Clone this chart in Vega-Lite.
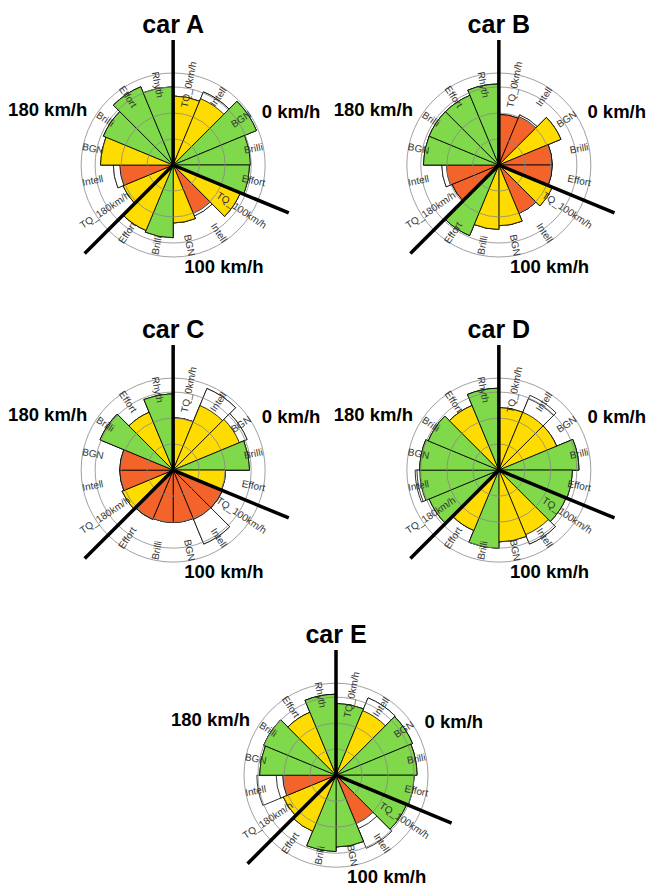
{
"$schema": "https://vega.github.io/schema/vega-lite/v6.json",
"padding": {"left": 8, "top": 12, "right": 0, "bottom": 0},
"center": true,
"spacing": 40.1,
"config": {"view": {"stroke": null}, "font": "Liberation Sans",
  "title": {"fontSize": 25, "fontWeight": "bold", "font": "Liberation Sans", "anchor": "middle", "frame": "group", "baseline": "alphabetic", "offset": -4.7, "color": "black"}},
"datasets": {
"rings": [{"r": 28.3, "kind": "grid"}, {"r": 56.5, "kind": "grid"}, {"r": 84.8, "kind": "grid"}, {"r": 100, "kind": "outer"}],
"cuts": [{"b": 0, "speed": "0 km/h"}, {"b": 5, "speed": "100 km/h"}, {"b": 10, "speed": "180 km/h"}],
"bars": [
{"car":"A","idx":0,"label":"TQ_0km/h","rating":"mid","v":75,"o1":75,"o2":75},
{"car":"A","idx":1,"label":"Intell","rating":"mid","v":78,"o1":86,"o2":86},
{"car":"A","idx":2,"label":"BGN","rating":"good","v":98,"o1":98,"o2":98},
{"car":"A","idx":3,"label":"Brilli","rating":"good","v":84,"o1":84,"o2":84},
{"car":"A","idx":4,"label":"Effort","rating":"good","v":83,"o1":83,"o2":83},
{"car":"A","idx":5,"label":"TQ_100km/h","rating":"mid","v":79,"o1":79,"o2":79},
{"car":"A","idx":6,"label":"Intell","rating":"poor","v":57,"o1":60,"o2":60},
{"car":"A","idx":7,"label":"BGN","rating":"mid","v":63,"o1":63,"o2":63},
{"car":"A","idx":8,"label":"Brilli","rating":"good","v":79,"o1":79,"o2":79},
{"car":"A","idx":9,"label":"Effort","rating":"mid","v":77,"o1":77,"o2":77},
{"car":"A","idx":10,"label":"TQ_180km/h","rating":"mid","v":59,"o1":59,"o2":59},
{"car":"A","idx":11,"label":"Intell","rating":"poor","v":58,"o1":65,"o2":65},
{"car":"A","idx":12,"label":"BGN","rating":"mid","v":79,"o1":79,"o2":79},
{"car":"A","idx":13,"label":"Brilli","rating":"good","v":82,"o1":82,"o2":82},
{"car":"A","idx":14,"label":"Effort","rating":"good","v":92,"o1":92,"o2":92},
{"car":"A","idx":15,"label":"Rhyth","rating":"good","v":85,"o1":85,"o2":85},
{"car":"B","idx":0,"label":"TQ_0km/h","rating":"poor","v":55,"o1":55,"o2":55},
{"car":"B","idx":1,"label":"Intell","rating":"poor","v":57,"o1":59,"o2":59},
{"car":"B","idx":2,"label":"BGN","rating":"mid","v":73,"o1":73,"o2":73},
{"car":"B","idx":3,"label":"Brilli","rating":"poor","v":58,"o1":58,"o2":58},
{"car":"B","idx":4,"label":"Effort","rating":"poor","v":58,"o1":58,"o2":58},
{"car":"B","idx":5,"label":"TQ_100km/h","rating":"mid","v":63,"o1":63,"o2":63},
{"car":"B","idx":6,"label":"Intell","rating":"poor","v":57,"o1":57,"o2":57},
{"car":"B","idx":7,"label":"BGN","rating":"mid","v":66,"o1":66,"o2":66},
{"car":"B","idx":8,"label":"Brilli","rating":"mid","v":70,"o1":70,"o2":70},
{"car":"B","idx":9,"label":"Effort","rating":"good","v":83,"o1":83,"o2":83},
{"car":"B","idx":10,"label":"TQ_180km/h","rating":"poor","v":55,"o1":55,"o2":55},
{"car":"B","idx":11,"label":"Intell","rating":"poor","v":57,"o1":62,"o2":62},
{"car":"B","idx":12,"label":"BGN","rating":"good","v":82,"o1":82,"o2":82},
{"car":"B","idx":13,"label":"Brilli","rating":"good","v":82,"o1":82,"o2":82},
{"car":"B","idx":14,"label":"Effort","rating":"good","v":82,"o1":82,"o2":82},
{"car":"B","idx":15,"label":"Rhyth","rating":"good","v":88,"o1":88,"o2":88},
{"car":"C","idx":0,"label":"TQ_0km/h","rating":"mid","v":57,"o1":57,"o2":57},
{"car":"C","idx":1,"label":"Intell","rating":"mid","v":76,"o1":96,"o2":96},
{"car":"C","idx":2,"label":"BGN","rating":"mid","v":78,"o1":87,"o2":87},
{"car":"C","idx":3,"label":"Brilli","rating":"good","v":83,"o1":83,"o2":83},
{"car":"C","idx":4,"label":"Effort","rating":"mid","v":57,"o1":57,"o2":57},
{"car":"C","idx":5,"label":"TQ_100km/h","rating":"poor","v":58,"o1":58,"o2":58},
{"car":"C","idx":6,"label":"Intell","rating":"poor","v":58,"o1":87,"o2":87},
{"car":"C","idx":7,"label":"BGN","rating":"poor","v":57,"o1":57,"o2":57},
{"car":"C","idx":8,"label":"Brilli","rating":"poor","v":57,"o1":57,"o2":57},
{"car":"C","idx":9,"label":"Effort","rating":"poor","v":58,"o1":58,"o2":58},
{"car":"C","idx":10,"label":"TQ_180km/h","rating":"mid","v":60,"o1":60,"o2":60},
{"car":"C","idx":11,"label":"Intell","rating":"poor","v":58,"o1":58,"o2":58},
{"car":"C","idx":12,"label":"BGN","rating":"poor","v":58,"o1":58,"o2":58},
{"car":"C","idx":13,"label":"Brilli","rating":"good","v":86,"o1":86,"o2":86},
{"car":"C","idx":14,"label":"Effort","rating":"mid","v":68,"o1":68,"o2":68},
{"car":"C","idx":15,"label":"Rhyth","rating":"good","v":83,"o1":83,"o2":83},
{"car":"D","idx":0,"label":"TQ_0km/h","rating":"mid","v":68,"o1":68,"o2":68},
{"car":"D","idx":1,"label":"Intell","rating":"mid","v":68,"o1":84,"o2":88},
{"car":"D","idx":2,"label":"BGN","rating":"mid","v":68,"o1":68,"o2":68},
{"car":"D","idx":3,"label":"Brilli","rating":"good","v":87,"o1":87,"o2":87},
{"car":"D","idx":4,"label":"Effort","rating":"good","v":80,"o1":80,"o2":80},
{"car":"D","idx":5,"label":"TQ_100km/h","rating":"good","v":79,"o1":79,"o2":79},
{"car":"D","idx":6,"label":"Intell","rating":"mid","v":76,"o1":87,"o2":87},
{"car":"D","idx":7,"label":"BGN","rating":"mid","v":78,"o1":78,"o2":78},
{"car":"D","idx":8,"label":"Brilli","rating":"good","v":85,"o1":85,"o2":85},
{"car":"D","idx":9,"label":"Effort","rating":"mid","v":71,"o1":71,"o2":71},
{"car":"D","idx":10,"label":"TQ_180km/h","rating":"good","v":82,"o1":82,"o2":82},
{"car":"D","idx":11,"label":"Intell","rating":"good","v":86,"o1":89,"o2":91},
{"car":"D","idx":12,"label":"BGN","rating":"good","v":86,"o1":86,"o2":86},
{"car":"D","idx":13,"label":"Brilli","rating":"good","v":83,"o1":83,"o2":83},
{"car":"D","idx":14,"label":"Effort","rating":"mid","v":76,"o1":76,"o2":76},
{"car":"D","idx":15,"label":"Rhyth","rating":"good","v":89,"o1":89,"o2":89},
{"car":"E","idx":0,"label":"TQ_0km/h","rating":"good","v":78,"o1":78,"o2":78},
{"car":"E","idx":1,"label":"Intell","rating":"mid","v":76,"o1":91,"o2":91},
{"car":"E","idx":2,"label":"BGN","rating":"good","v":90,"o1":90,"o2":90},
{"car":"E","idx":3,"label":"Brilli","rating":"good","v":88,"o1":88,"o2":88},
{"car":"E","idx":4,"label":"Effort","rating":"good","v":85,"o1":85,"o2":85},
{"car":"E","idx":5,"label":"TQ_100km/h","rating":"good","v":83,"o1":83,"o2":83},
{"car":"E","idx":6,"label":"Intell","rating":"poor","v":57,"o1":63,"o2":86},
{"car":"E","idx":7,"label":"BGN","rating":"good","v":78,"o1":78,"o2":78},
{"car":"E","idx":8,"label":"Brilli","rating":"good","v":83,"o1":83,"o2":83},
{"car":"E","idx":9,"label":"Effort","rating":"mid","v":66,"o1":66,"o2":66},
{"car":"E","idx":10,"label":"TQ_180km/h","rating":"mid","v":62,"o1":62,"o2":62},
{"car":"E","idx":11,"label":"Intell","rating":"poor","v":58,"o1":65,"o2":86},
{"car":"E","idx":12,"label":"BGN","rating":"good","v":83,"o1":83,"o2":83},
{"car":"E","idx":13,"label":"Brilli","rating":"good","v":85,"o1":85,"o2":85},
{"car":"E","idx":14,"label":"Effort","rating":"mid","v":74,"o1":74,"o2":74},
{"car":"E","idx":15,"label":"Rhyth","rating":"good","v":88,"o1":88,"o2":88}
]
},
"vconcat": [
{"hconcat": [
{"title": {"text": "car A"}, "width": 300, "height": 220, "data": {"name": "bars"}, "transform": [{"filter": "datum.car === 'A'"}],
 "resolve": {"scale": {"theta": "independent", "radius": "independent"}},
 "layer": [
  {"mark": {"type": "arc", "fill": "white", "stroke": "black", "strokeWidth": 0.8, "theta2Offset": 0.392699}, "encoding": {"theta": {"field": "idx", "type": "quantitative", "stack": null, "scale": {"domain": [0, 16], "range": [0, 6.283185]}}, "theta2": {"field": "idx"}, "radius": {"field": "o2", "type": "quantitative", "stack": null, "scale": {"type": "linear", "domain": [0, 100], "range": [0, 92]}}}},
  {"mark": {"type": "arc", "fill": "white", "stroke": "black", "strokeWidth": 0.8, "theta2Offset": 0.392699}, "encoding": {"theta": {"field": "idx", "type": "quantitative", "stack": null, "scale": {"domain": [0, 16], "range": [0, 6.283185]}}, "theta2": {"field": "idx"}, "radius": {"field": "o1", "type": "quantitative", "stack": null, "scale": {"type": "linear", "domain": [0, 100], "range": [0, 92]}}}},
  {"mark": {"type": "arc", "stroke": "black", "strokeWidth": 0.8, "theta2Offset": 0.392699}, "encoding": {"theta": {"field": "idx", "type": "quantitative", "stack": null, "scale": {"domain": [0, 16], "range": [0, 6.283185]}}, "theta2": {"field": "idx"}, "radius": {"field": "v", "type": "quantitative", "stack": null, "scale": {"type": "linear", "domain": [0, 100], "range": [0, 92]}}, "color": {"field": "rating", "type": "nominal", "scale": {"domain": ["good", "mid", "poor"], "range": ["#80D94A", "#FFDC00", "#F4632A"]}, "legend": null}}},
  {"data": {"name": "rings"}, "mark": {"type": "arc", "theta": 0, "theta2": 6.2832, "filled": false, "stroke": "#888", "strokeWidth": 0.8}, "encoding": {"radius": {"field": "r", "type": "quantitative", "stack": null, "scale": {"type": "linear", "domain": [0, 100], "range": [0, 92]}}, "strokeDash": {"field": "kind", "type": "nominal", "scale": {"domain": ["grid", "outer"], "range": [[1, 2], [1, 0]]}, "legend": null}}},
  {"mark": {"type": "text", "fontSize": 10, "fill": "#333", "align": "center", "baseline": "middle"}, "encoding": {"theta": {"field": "idx", "type": "quantitative", "stack": null, "scale": {"domain": [-0.5, 15.5], "range": [0, 6.283185]}}, "radius": {"datum": 89, "type": "quantitative", "scale": {"type": "linear", "domain": [0, 100], "range": [0, 92]}}, "text": {"field": "label", "type": "nominal"}, "angle": {"field": "idx", "type": "quantitative", "scale": {"domain": [0, 7, 8, 15], "range": [-78.75, 78.75, -78.75, 78.75]}}}},
  {"data": {"name": "cuts"}, "mark": {"type": "arc", "filled": false, "stroke": "black", "strokeWidth": 3.5}, "encoding": {"theta": {"field": "b", "type": "quantitative", "stack": null, "scale": {"domain": [0, 16], "range": [0, 6.283185]}}, "theta2": {"field": "b"}, "radius": {"datum": 136, "type": "quantitative", "scale": {"type": "linear", "domain": [0, 100], "range": [0, 92]}}}},
  {"data": {"name": "cuts"}, "mark": {"type": "text", "fontSize": 18.5, "fontWeight": "bold", "fill": "black", "align": "center", "baseline": "middle"}, "encoding": {"theta": {"field": "b", "type": "quantitative", "stack": null, "scale": {"domain": [0, 5, 10], "range": [1.147, 2.681, 5.124]}}, "radius": {"field": "b", "type": "quantitative", "stack": null, "scale": {"domain": [0, 5, 10], "range": [129.3, 114.1, 136.9]}}, "text": {"field": "speed", "type": "nominal"}}}
 ]},
{"title": {"text": "car B"}, "width": 300, "height": 220, "data": {"name": "bars"}, "transform": [{"filter": "datum.car === 'B'"}],
 "resolve": {"scale": {"theta": "independent", "radius": "independent"}},
 "layer": [
  {"mark": {"type": "arc", "fill": "white", "stroke": "black", "strokeWidth": 0.8, "theta2Offset": 0.392699}, "encoding": {"theta": {"field": "idx", "type": "quantitative", "stack": null, "scale": {"domain": [0, 16], "range": [0, 6.283185]}}, "theta2": {"field": "idx"}, "radius": {"field": "o2", "type": "quantitative", "stack": null, "scale": {"type": "linear", "domain": [0, 100], "range": [0, 92]}}}},
  {"mark": {"type": "arc", "fill": "white", "stroke": "black", "strokeWidth": 0.8, "theta2Offset": 0.392699}, "encoding": {"theta": {"field": "idx", "type": "quantitative", "stack": null, "scale": {"domain": [0, 16], "range": [0, 6.283185]}}, "theta2": {"field": "idx"}, "radius": {"field": "o1", "type": "quantitative", "stack": null, "scale": {"type": "linear", "domain": [0, 100], "range": [0, 92]}}}},
  {"mark": {"type": "arc", "stroke": "black", "strokeWidth": 0.8, "theta2Offset": 0.392699}, "encoding": {"theta": {"field": "idx", "type": "quantitative", "stack": null, "scale": {"domain": [0, 16], "range": [0, 6.283185]}}, "theta2": {"field": "idx"}, "radius": {"field": "v", "type": "quantitative", "stack": null, "scale": {"type": "linear", "domain": [0, 100], "range": [0, 92]}}, "color": {"field": "rating", "type": "nominal", "scale": {"domain": ["good", "mid", "poor"], "range": ["#80D94A", "#FFDC00", "#F4632A"]}, "legend": null}}},
  {"data": {"name": "rings"}, "mark": {"type": "arc", "theta": 0, "theta2": 6.2832, "filled": false, "stroke": "#888", "strokeWidth": 0.8}, "encoding": {"radius": {"field": "r", "type": "quantitative", "stack": null, "scale": {"type": "linear", "domain": [0, 100], "range": [0, 92]}}, "strokeDash": {"field": "kind", "type": "nominal", "scale": {"domain": ["grid", "outer"], "range": [[1, 2], [1, 0]]}, "legend": null}}},
  {"mark": {"type": "text", "fontSize": 10, "fill": "#333", "align": "center", "baseline": "middle"}, "encoding": {"theta": {"field": "idx", "type": "quantitative", "stack": null, "scale": {"domain": [-0.5, 15.5], "range": [0, 6.283185]}}, "radius": {"datum": 89, "type": "quantitative", "scale": {"type": "linear", "domain": [0, 100], "range": [0, 92]}}, "text": {"field": "label", "type": "nominal"}, "angle": {"field": "idx", "type": "quantitative", "scale": {"domain": [0, 7, 8, 15], "range": [-78.75, 78.75, -78.75, 78.75]}}}},
  {"data": {"name": "cuts"}, "mark": {"type": "arc", "filled": false, "stroke": "black", "strokeWidth": 3.5}, "encoding": {"theta": {"field": "b", "type": "quantitative", "stack": null, "scale": {"domain": [0, 16], "range": [0, 6.283185]}}, "theta2": {"field": "b"}, "radius": {"datum": 136, "type": "quantitative", "scale": {"type": "linear", "domain": [0, 100], "range": [0, 92]}}}},
  {"data": {"name": "cuts"}, "mark": {"type": "text", "fontSize": 18.5, "fontWeight": "bold", "fill": "black", "align": "center", "baseline": "middle"}, "encoding": {"theta": {"field": "b", "type": "quantitative", "stack": null, "scale": {"domain": [0, 5, 10], "range": [1.147, 2.681, 5.124]}}, "radius": {"field": "b", "type": "quantitative", "stack": null, "scale": {"domain": [0, 5, 10], "range": [129.3, 114.1, 136.9]}}, "text": {"field": "speed", "type": "nominal"}}}
 ]}
], "spacing": 25.7, "bounds": "flush"},
{"hconcat": [
{"title": {"text": "car C"}, "width": 300, "height": 220, "data": {"name": "bars"}, "transform": [{"filter": "datum.car === 'C'"}],
 "resolve": {"scale": {"theta": "independent", "radius": "independent"}},
 "layer": [
  {"mark": {"type": "arc", "fill": "white", "stroke": "black", "strokeWidth": 0.8, "theta2Offset": 0.392699}, "encoding": {"theta": {"field": "idx", "type": "quantitative", "stack": null, "scale": {"domain": [0, 16], "range": [0, 6.283185]}}, "theta2": {"field": "idx"}, "radius": {"field": "o2", "type": "quantitative", "stack": null, "scale": {"type": "linear", "domain": [0, 100], "range": [0, 92]}}}},
  {"mark": {"type": "arc", "fill": "white", "stroke": "black", "strokeWidth": 0.8, "theta2Offset": 0.392699}, "encoding": {"theta": {"field": "idx", "type": "quantitative", "stack": null, "scale": {"domain": [0, 16], "range": [0, 6.283185]}}, "theta2": {"field": "idx"}, "radius": {"field": "o1", "type": "quantitative", "stack": null, "scale": {"type": "linear", "domain": [0, 100], "range": [0, 92]}}}},
  {"mark": {"type": "arc", "stroke": "black", "strokeWidth": 0.8, "theta2Offset": 0.392699}, "encoding": {"theta": {"field": "idx", "type": "quantitative", "stack": null, "scale": {"domain": [0, 16], "range": [0, 6.283185]}}, "theta2": {"field": "idx"}, "radius": {"field": "v", "type": "quantitative", "stack": null, "scale": {"type": "linear", "domain": [0, 100], "range": [0, 92]}}, "color": {"field": "rating", "type": "nominal", "scale": {"domain": ["good", "mid", "poor"], "range": ["#80D94A", "#FFDC00", "#F4632A"]}, "legend": null}}},
  {"data": {"name": "rings"}, "mark": {"type": "arc", "theta": 0, "theta2": 6.2832, "filled": false, "stroke": "#888", "strokeWidth": 0.8}, "encoding": {"radius": {"field": "r", "type": "quantitative", "stack": null, "scale": {"type": "linear", "domain": [0, 100], "range": [0, 92]}}, "strokeDash": {"field": "kind", "type": "nominal", "scale": {"domain": ["grid", "outer"], "range": [[1, 2], [1, 0]]}, "legend": null}}},
  {"mark": {"type": "text", "fontSize": 10, "fill": "#333", "align": "center", "baseline": "middle"}, "encoding": {"theta": {"field": "idx", "type": "quantitative", "stack": null, "scale": {"domain": [-0.5, 15.5], "range": [0, 6.283185]}}, "radius": {"datum": 89, "type": "quantitative", "scale": {"type": "linear", "domain": [0, 100], "range": [0, 92]}}, "text": {"field": "label", "type": "nominal"}, "angle": {"field": "idx", "type": "quantitative", "scale": {"domain": [0, 7, 8, 15], "range": [-78.75, 78.75, -78.75, 78.75]}}}},
  {"data": {"name": "cuts"}, "mark": {"type": "arc", "filled": false, "stroke": "black", "strokeWidth": 3.5}, "encoding": {"theta": {"field": "b", "type": "quantitative", "stack": null, "scale": {"domain": [0, 16], "range": [0, 6.283185]}}, "theta2": {"field": "b"}, "radius": {"datum": 136, "type": "quantitative", "scale": {"type": "linear", "domain": [0, 100], "range": [0, 92]}}}},
  {"data": {"name": "cuts"}, "mark": {"type": "text", "fontSize": 18.5, "fontWeight": "bold", "fill": "black", "align": "center", "baseline": "middle"}, "encoding": {"theta": {"field": "b", "type": "quantitative", "stack": null, "scale": {"domain": [0, 5, 10], "range": [1.147, 2.681, 5.124]}}, "radius": {"field": "b", "type": "quantitative", "stack": null, "scale": {"domain": [0, 5, 10], "range": [129.3, 114.1, 136.9]}}, "text": {"field": "speed", "type": "nominal"}}}
 ]},
{"title": {"text": "car D"}, "width": 300, "height": 220, "data": {"name": "bars"}, "transform": [{"filter": "datum.car === 'D'"}],
 "resolve": {"scale": {"theta": "independent", "radius": "independent"}},
 "layer": [
  {"mark": {"type": "arc", "fill": "white", "stroke": "black", "strokeWidth": 0.8, "theta2Offset": 0.392699}, "encoding": {"theta": {"field": "idx", "type": "quantitative", "stack": null, "scale": {"domain": [0, 16], "range": [0, 6.283185]}}, "theta2": {"field": "idx"}, "radius": {"field": "o2", "type": "quantitative", "stack": null, "scale": {"type": "linear", "domain": [0, 100], "range": [0, 92]}}}},
  {"mark": {"type": "arc", "fill": "white", "stroke": "black", "strokeWidth": 0.8, "theta2Offset": 0.392699}, "encoding": {"theta": {"field": "idx", "type": "quantitative", "stack": null, "scale": {"domain": [0, 16], "range": [0, 6.283185]}}, "theta2": {"field": "idx"}, "radius": {"field": "o1", "type": "quantitative", "stack": null, "scale": {"type": "linear", "domain": [0, 100], "range": [0, 92]}}}},
  {"mark": {"type": "arc", "stroke": "black", "strokeWidth": 0.8, "theta2Offset": 0.392699}, "encoding": {"theta": {"field": "idx", "type": "quantitative", "stack": null, "scale": {"domain": [0, 16], "range": [0, 6.283185]}}, "theta2": {"field": "idx"}, "radius": {"field": "v", "type": "quantitative", "stack": null, "scale": {"type": "linear", "domain": [0, 100], "range": [0, 92]}}, "color": {"field": "rating", "type": "nominal", "scale": {"domain": ["good", "mid", "poor"], "range": ["#80D94A", "#FFDC00", "#F4632A"]}, "legend": null}}},
  {"data": {"name": "rings"}, "mark": {"type": "arc", "theta": 0, "theta2": 6.2832, "filled": false, "stroke": "#888", "strokeWidth": 0.8}, "encoding": {"radius": {"field": "r", "type": "quantitative", "stack": null, "scale": {"type": "linear", "domain": [0, 100], "range": [0, 92]}}, "strokeDash": {"field": "kind", "type": "nominal", "scale": {"domain": ["grid", "outer"], "range": [[1, 2], [1, 0]]}, "legend": null}}},
  {"mark": {"type": "text", "fontSize": 10, "fill": "#333", "align": "center", "baseline": "middle"}, "encoding": {"theta": {"field": "idx", "type": "quantitative", "stack": null, "scale": {"domain": [-0.5, 15.5], "range": [0, 6.283185]}}, "radius": {"datum": 89, "type": "quantitative", "scale": {"type": "linear", "domain": [0, 100], "range": [0, 92]}}, "text": {"field": "label", "type": "nominal"}, "angle": {"field": "idx", "type": "quantitative", "scale": {"domain": [0, 7, 8, 15], "range": [-78.75, 78.75, -78.75, 78.75]}}}},
  {"data": {"name": "cuts"}, "mark": {"type": "arc", "filled": false, "stroke": "black", "strokeWidth": 3.5}, "encoding": {"theta": {"field": "b", "type": "quantitative", "stack": null, "scale": {"domain": [0, 16], "range": [0, 6.283185]}}, "theta2": {"field": "b"}, "radius": {"datum": 136, "type": "quantitative", "scale": {"type": "linear", "domain": [0, 100], "range": [0, 92]}}}},
  {"data": {"name": "cuts"}, "mark": {"type": "text", "fontSize": 18.5, "fontWeight": "bold", "fill": "black", "align": "center", "baseline": "middle"}, "encoding": {"theta": {"field": "b", "type": "quantitative", "stack": null, "scale": {"domain": [0, 5, 10], "range": [1.147, 2.681, 5.124]}}, "radius": {"field": "b", "type": "quantitative", "stack": null, "scale": {"domain": [0, 5, 10], "range": [129.3, 114.1, 136.9]}}, "text": {"field": "speed", "type": "nominal"}}}
 ]}
], "spacing": 25.7, "bounds": "flush"},
{"title": {"text": "car E"}, "width": 300, "height": 220, "data": {"name": "bars"}, "transform": [{"filter": "datum.car === 'E'"}],
 "resolve": {"scale": {"theta": "independent", "radius": "independent"}},
 "layer": [
  {"mark": {"type": "arc", "fill": "white", "stroke": "black", "strokeWidth": 0.8, "theta2Offset": 0.392699}, "encoding": {"theta": {"field": "idx", "type": "quantitative", "stack": null, "scale": {"domain": [0, 16], "range": [0, 6.283185]}}, "theta2": {"field": "idx"}, "radius": {"field": "o2", "type": "quantitative", "stack": null, "scale": {"type": "linear", "domain": [0, 100], "range": [0, 92]}}}},
  {"mark": {"type": "arc", "fill": "white", "stroke": "black", "strokeWidth": 0.8, "theta2Offset": 0.392699}, "encoding": {"theta": {"field": "idx", "type": "quantitative", "stack": null, "scale": {"domain": [0, 16], "range": [0, 6.283185]}}, "theta2": {"field": "idx"}, "radius": {"field": "o1", "type": "quantitative", "stack": null, "scale": {"type": "linear", "domain": [0, 100], "range": [0, 92]}}}},
  {"mark": {"type": "arc", "stroke": "black", "strokeWidth": 0.8, "theta2Offset": 0.392699}, "encoding": {"theta": {"field": "idx", "type": "quantitative", "stack": null, "scale": {"domain": [0, 16], "range": [0, 6.283185]}}, "theta2": {"field": "idx"}, "radius": {"field": "v", "type": "quantitative", "stack": null, "scale": {"type": "linear", "domain": [0, 100], "range": [0, 92]}}, "color": {"field": "rating", "type": "nominal", "scale": {"domain": ["good", "mid", "poor"], "range": ["#80D94A", "#FFDC00", "#F4632A"]}, "legend": null}}},
  {"data": {"name": "rings"}, "mark": {"type": "arc", "theta": 0, "theta2": 6.2832, "filled": false, "stroke": "#888", "strokeWidth": 0.8}, "encoding": {"radius": {"field": "r", "type": "quantitative", "stack": null, "scale": {"type": "linear", "domain": [0, 100], "range": [0, 92]}}, "strokeDash": {"field": "kind", "type": "nominal", "scale": {"domain": ["grid", "outer"], "range": [[1, 2], [1, 0]]}, "legend": null}}},
  {"mark": {"type": "text", "fontSize": 10, "fill": "#333", "align": "center", "baseline": "middle"}, "encoding": {"theta": {"field": "idx", "type": "quantitative", "stack": null, "scale": {"domain": [-0.5, 15.5], "range": [0, 6.283185]}}, "radius": {"datum": 89, "type": "quantitative", "scale": {"type": "linear", "domain": [0, 100], "range": [0, 92]}}, "text": {"field": "label", "type": "nominal"}, "angle": {"field": "idx", "type": "quantitative", "scale": {"domain": [0, 7, 8, 15], "range": [-78.75, 78.75, -78.75, 78.75]}}}},
  {"data": {"name": "cuts"}, "mark": {"type": "arc", "filled": false, "stroke": "black", "strokeWidth": 3.5}, "encoding": {"theta": {"field": "b", "type": "quantitative", "stack": null, "scale": {"domain": [0, 16], "range": [0, 6.283185]}}, "theta2": {"field": "b"}, "radius": {"datum": 136, "type": "quantitative", "scale": {"type": "linear", "domain": [0, 100], "range": [0, 92]}}}},
  {"data": {"name": "cuts"}, "mark": {"type": "text", "fontSize": 18.5, "fontWeight": "bold", "fill": "black", "align": "center", "baseline": "middle"}, "encoding": {"theta": {"field": "b", "type": "quantitative", "stack": null, "scale": {"domain": [0, 5, 10], "range": [1.147, 2.681, 5.124]}}, "radius": {"field": "b", "type": "quantitative", "stack": null, "scale": {"domain": [0, 5, 10], "range": [129.3, 114.1, 136.9]}}, "text": {"field": "speed", "type": "nominal"}}}
 ]}
]
}
